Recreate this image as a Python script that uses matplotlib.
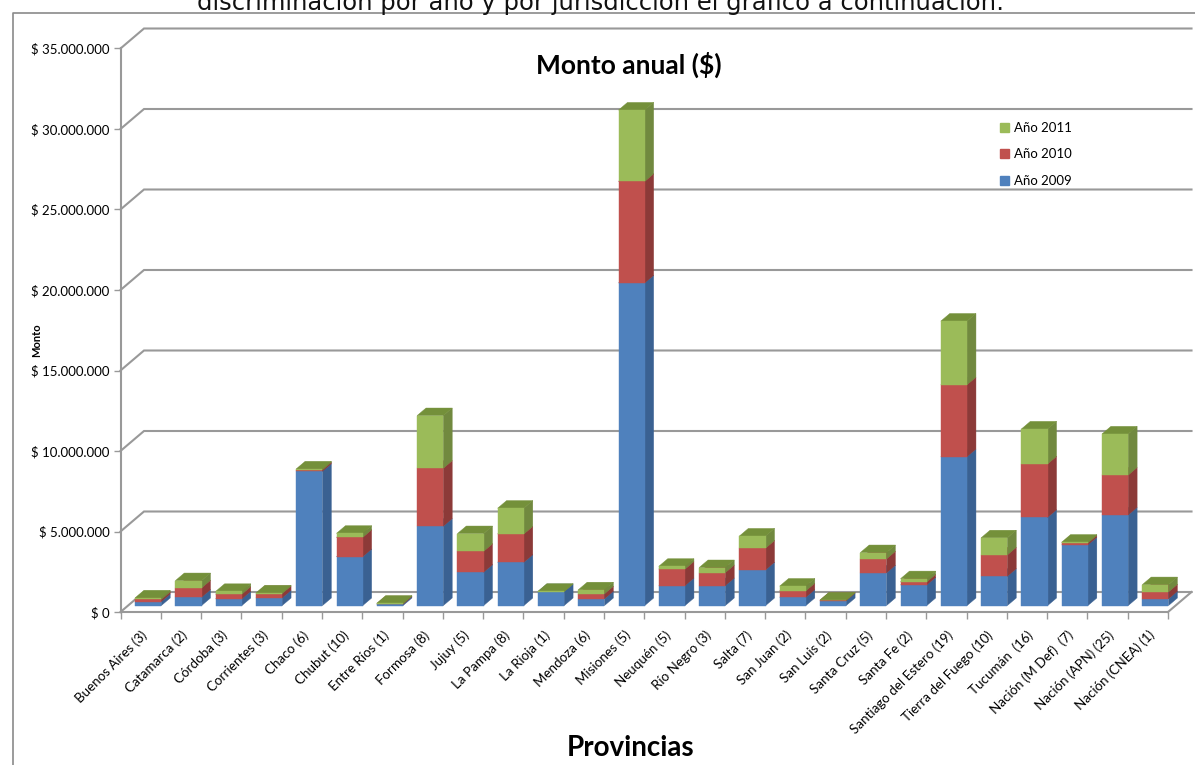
import numpy as np
import matplotlib
matplotlib.use("Agg")
import matplotlib.pyplot as plt
from matplotlib.patches import Polygon, Patch
from matplotlib.lines import Line2D

# -----------------------------
# Datos: monto anual por jurisdicción ($)
# -----------------------------
provincias = [
    "Buenos Aires (3)", "Catamarca (2)", "Córdoba (3)", "Corrientes (3)",
    "Chaco (6)", "Chubut (10)", "Entre Ríos (1)", "Formosa (8)", "Jujuy (5)",
    "La Pampa (8)", "La Rioja (1)", "Mendoza (6)", "Misiones (5)",
    "Neuquén (5)", "Río Negro (3)", "Salta (7)", "San Juan (2)",
    "San Luis (2)", "Santa Cruz (5)", "Santa Fe (2)",
    "Santiago del Estero (19)", "Tierra del Fuego (10)", "Tucumán  (16)",
    "Nación (M Def)  (7)", "Nación (APN) (25)", "Nación (CNEA) (1)",
]

anio_2009 = [250000, 520000, 420000, 480000, 8340000, 3040000, 80000,
             4930000, 2070000, 2690000, 870000, 420000, 20040000, 1240000,
             1240000, 2220000, 520000, 310000, 2030000, 1280000, 9250000,
             1820000, 5480000, 3770000, 5630000, 420000]
anio_2010 = [130000, 580000, 290000, 270000, 90000, 1200000, 40000,
             3600000, 1300000, 1760000, 0, 310000, 6310000, 1030000,
             810000, 1350000, 400000, 20000, 870000, 190000, 4470000,
             1330000, 3320000, 120000, 2480000, 430000]
anio_2011 = [100000, 450000, 170000, 40000, 60000, 250000, 30000,
             3270000, 1100000, 1600000, 20000, 250000, 4430000, 170000,
             310000, 750000, 290000, 20000, 390000, 200000, 3950000,
             1060000, 2170000, 50000, 2550000, 450000]

y_ticks = [0, 5000000, 10000000, 15000000, 20000000, 25000000, 30000000, 35000000]

series = [
    ("Año 2009", anio_2009, "#4F81BD", "#3A6192", "#4674AA"),
    ("Año 2010", anio_2010, "#C0504D", "#8C3A38", "#A94441"),
    ("Año 2011", anio_2011, "#9BBB59", "#71893F", "#74903A"),
]

# -----------------------------
# Geometría del gráfico 3D
# -----------------------------
W, H = 1195, 765
n = len(provincias)
ax_left, ax_right = 120.5, 1168.0
ax_bottom, ax_top = 612.0, 48.5
YMAX = 35000000

px_cat = (ax_right - ax_left) / n
px_val = (ax_bottom - ax_top) / YMAX
DX = 23.5 / px_cat          # profundidad en unidades de categoría
DY = 20.0 / px_val          # profundidad en unidades de monto
f0, f1 = 0.32, 0.70         # posición de la barra dentro de la profundidad
ancho = 0.65

GRIS = "#999999"

fig = plt.figure(figsize=(W / 100, H / 100), dpi=100)
fig.patch.set_facecolor("white")
ax = fig.add_axes([ax_left / W, 1 - ax_bottom / H,
                   (ax_right - ax_left) / W, (ax_bottom - ax_top) / H])
ax.set_xlim(0, n)
ax.set_ylim(0, YMAX)
ax.set_facecolor("none")

# Borde exterior del área del gráfico
fig.add_artist(Line2D([12.6 / W, 12.6 / W, 1.0], [0, 1 - 12.7 / H, 1 - 12.7 / H],
                      transform=fig.transFigure, color="#8A8A8A", lw=1.2))

# Texto del documento (cortado arriba)
fig.text(197 / W, 1 - 10 / H,
         "discriminación por año y por jurisdicción el gráfico a continuación:",
         family="DejaVu Sans", fontsize=17.5, va="baseline", ha="left", color="#111111")

# Paredes: líneas de división en pared lateral y fondo
for v in y_ticks:
    ax.plot([0, DX, n + DX], [v, v + DY, v + DY], color=GRIS, lw=1.5,
            clip_on=False, zorder=1, solid_joinstyle="miter")

# Piso
ax.plot([n, n + DX], [0, DY], color=GRIS, lw=1.5, clip_on=False, zorder=1)

# Barras apiladas con caras frontal, lateral y superior
for i in range(n):
    x0 = i + (1 - ancho) / 2
    x1 = x0 + ancho
    base = 0
    for nombre, vals, c_front, c_side, c_top in series:
        v = vals[i]
        if v <= 0:
            continue
        b, t = base, base + v
        front = [(x0 + f0 * DX, b + f0 * DY), (x1 + f0 * DX, b + f0 * DY),
                 (x1 + f0 * DX, t + f0 * DY), (x0 + f0 * DX, t + f0 * DY)]
        side = [(x1 + f0 * DX, b + f0 * DY), (x1 + f1 * DX, b + f1 * DY),
                (x1 + f1 * DX, t + f1 * DY), (x1 + f0 * DX, t + f0 * DY)]
        top = [(x0 + f0 * DX, t + f0 * DY), (x1 + f0 * DX, t + f0 * DY),
               (x1 + f1 * DX, t + f1 * DY), (x0 + f1 * DX, t + f1 * DY)]
        for pts, col in ((side, c_side), (top, c_top), (front, c_front)):
            ax.add_patch(Polygon(pts, closed=True, facecolor=col, edgecolor=col,
                                 lw=0.3, zorder=3, clip_on=False))
        base = t

# Ejes
for s in ("top", "right"):
    ax.spines[s].set_visible(False)
for s in ("left", "bottom"):
    ax.spines[s].set_color(GRIS)
    ax.spines[s].set_linewidth(1.5)

ax.set_yticks(y_ticks)
ax.set_yticklabels(["$ 0" if v == 0 else "$ " + f"{v:,}".replace(",", ".")
                    for v in y_ticks], family="Lato", fontsize=9.5)
ax.tick_params(axis="y", length=5, width=1, color=GRIS, pad=3)

ax.set_xticks(np.arange(n) + 0.5)
ax.set_xticklabels(provincias, rotation=45, ha="right", rotation_mode="anchor",
                   family="Lato", fontsize=9.6)
ax.set_xticks(np.arange(n + 1), minor=True)
ax.tick_params(axis="x", which="major", length=0, pad=12)
ax.tick_params(axis="x", which="minor", length=5, width=1, color=GRIS)

# Títulos
fig.text(629 / W, 1 - 65 / H, "Monto anual ($)", family="Lato", weight="bold",
         fontsize=19, ha="center", va="center")
fig.text(631 / W, 1 - 748 / H, "Provincias", family="Lato", weight="bold",
         fontsize=20, ha="center", va="center")
fig.text(37 / W, 1 - 340 / H, "Monto", family="Lato", weight="bold",
         fontsize=8, rotation=90, ha="center", va="center")

# Leyenda
handles = [Patch(facecolor=c, edgecolor=c) for _, _, c, _, _ in series[::-1]]
labels = [s[0] for s in series[::-1]]
fig.legend(handles, labels, loc="upper left",
           bbox_to_anchor=(988 / W, 1 - 110 / H), frameon=False,
           prop={"family": "Lato", "size": 9.5}, handlelength=0.7,
           handleheight=0.7, handletextpad=0.35, labelspacing=1.1)

fig.savefig("out.png", dpi=100)
